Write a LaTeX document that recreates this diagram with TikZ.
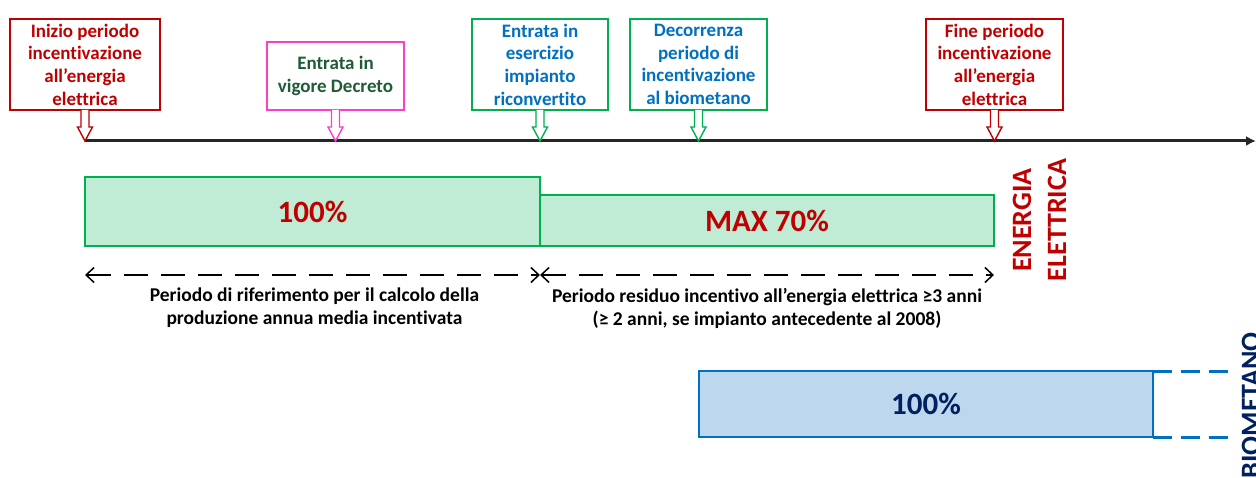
\documentclass[tikz,border=0pt]{standalone}
\usepackage{fontspec}
\setmainfont{Carlito}[Ligatures={NoCommon}]
\usetikzlibrary{calc,arrows.meta}

\definecolor{evred}{HTML}{C00000}
\definecolor{evpink}{HTML}{FF3DC8}
\definecolor{evgreen}{HTML}{00B050}
\definecolor{evdkgreen}{HTML}{1E5B36}
\definecolor{evblue}{HTML}{0070C0}
\definecolor{evnavy}{HTML}{002060}
\definecolor{greenfill}{HTML}{C0EBD5}
\definecolor{bluefill}{HTML}{BDD7EE}
\definecolor{axisgray}{HTML}{262626}

\tikzset{
	callout/.style={draw=#1, line width=1.4pt, fill=white, inner sep=0pt, outer sep=0pt,
		minimum height=91, align=center, font=\fontsize{19}{22.7}\selectfont\bfseries},
	elbar/.style={draw=evgreen, line width=2.4pt, fill=greenfill, text=evred,
		inner sep=0pt, outer sep=0pt, font=\fontsize{31}{36}\selectfont\bfseries},
	biobar/.style={draw=evblue, line width=2.4pt, fill=bluefill, text=evnavy,
		inner sep=0pt, outer sep=0pt, font=\fontsize{31}{36}\selectfont\bfseries},
	note/.style={anchor=north, align=center, inner sep=0pt, font=\fontsize{19.5}{23}\selectfont\bfseries},
	sidelabel/.style={rotate=90, inner sep=0pt, align=center, font=\fontsize{28}{35}\selectfont\bfseries}
}

\begin{document}
\begin{tikzpicture}[x=1pt, y=-1pt]
	\useasboundingbox (0,0) rectangle (1256,478);
	\clip (0,0) rectangle (1256,478);

	% asse dei tempi
	\coordinate (tstart) at (85,141);
	\coordinate (tend) at (1256,141);
	\draw [axisgray, line width=3pt, -{Latex[length=10pt,width=10pt]}] (tstart) -- (tend);

	% eventi
	\node [callout=evred, text=evred, minimum width=150] (c1) at (85,64.5)
		{Inizio periodo\\incentivazione\\all’energia\\elettrica};
	\node [callout=evpink, text=evdkgreen, minimum width=137, minimum height=68] (c2) at (335.5,76)
		{Entrata in\\vigore Decreto};
	\node [callout=evgreen, text=evblue, minimum width=136] (c3) at (540,64.5)
		{Entrata in\\esercizio\\impianto\\riconvertito};
	\node [callout=evgreen, text=evblue, minimum width=137] (c4) at (698.5,64.5)
		{Decorrenza\\periodo di\\incentivazione\\al biometano};
	\node [callout=evred, text=evred, minimum width=137] (c5) at (994.5,64.5)
		{Fine periodo\\incentivazione\\all’energia\\elettrica};

	\foreach \n/\c in {c1/evred, c2/evpink, c3/evgreen, c4/evgreen, c5/evred}
		\draw [\c, line width=1.4pt, fill=white] ($(\n.south)+(-4,0)$) -- ++(0,17) -- ++(-3.5,0)
			-- ($(\n.south)+(0,31)$) -- ++(7.5,-14) -- ++(-3.5,0) -- ($(\n.south)+(4,0)$);

	% energia elettrica
	\node [elbar, minimum width=455, minimum height=69] (bar1) at (312.5,211.5) {100\%};
	\node [elbar, minimum width=454, minimum height=51] (bar2) at (767,220.5) {MAX 70\%};
	\node [sidelabel, text=evred] (enel) at (1039.5,220) {ENERGIA\\ELETTRICA};

	\coordinate (d0) at (85,275);
	\coordinate (d1) at (540,275);
	\coordinate (d2) at (994,275);
	\draw [line width=1.5pt, dash pattern=on 24pt off 13pt, {Straight Barb[length=8pt,width=15pt]}-{Straight Barb[length=8pt,width=15pt]}] (d0) -- (d1);
	\draw [line width=1.5pt, dash pattern=on 24pt off 13pt, {Straight Barb[length=8pt,width=15pt]}-{Straight Barb[length=8pt,width=15pt]}] (d1) -- (d2);

	\node [note] (n1) at (314.5,288)
		{Periodo di riferimento per il calcolo della\\produzione annua media incentivata};
	\node [note] (n2) at (767,288)
		{Periodo residuo incentivo all’energia elettrica ≥3 anni\\(≥ 2 anni, se impianto antecedente al 2008)};

	% biometano
	\node [biobar, minimum width=454, minimum height=66] (bio) at (926,404) {100\%};
	\coordinate (bqend) at (1229,404);
	\draw [evblue, line width=3pt, dash pattern=on 19pt off 9pt] (bio.north east) -- (bio.north east -| bqend);
	\draw [evblue, line width=3pt, dash pattern=on 19pt off 9pt] (bio.south east) -- (bio.south east -| bqend);
	\node [sidelabel, text=evnavy, anchor=east] (biolab) at (1251,332) {BIOMETANO};
\end{tikzpicture}
\end{document}
